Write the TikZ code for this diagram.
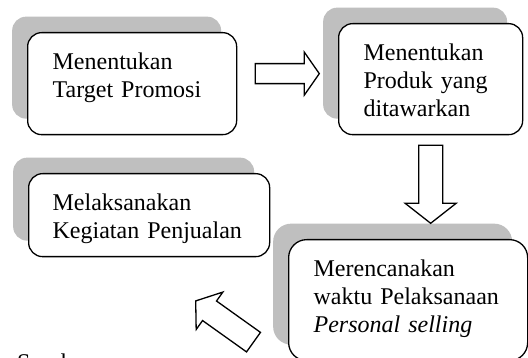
\documentclass[tikz,border=0pt]{standalone}
\usepackage{fontspec}
\setmainfont{Liberation Serif}
\usetikzlibrary{shadows,calc}
\definecolor{shadowgray}{RGB}{191,191,191}

\begin{document}
\begin{tikzpicture}[x=1pt, y=1pt, line join=miter]
\tikzstyle{box}=[draw=black, fill=white, line width=1.3pt, rounded corners=14pt, anchor=north west, align=left, inner xsep=25pt, inner ysep=0pt, text height=37pt, font=\fontsize{24}{28}\selectfont, drop shadow={shadow xshift=-15.5pt, shadow yshift=16pt, fill=shadowgray, opacity=1}]
\tikzstyle{arrowline}=[draw=black, fill=white, line width=1.3pt]
\tikzset{pics/blockarrow/.style n args={4}{code={
  \draw[arrowline] (0,{-#2/2}) -- ({#1-#4},{-#2/2}) -- ({#1-#4},{-#3/2}) -- (#1,0) -- ({#1-#4},{#3/2}) -- ({#1-#4},{#2/2}) -- (0,{#2/2}) -- cycle;}}}
\useasboundingbox (0,0) rectangle (528,358);
% kotak-kotak
\node[box, text width=159pt, text depth=65pt]   (A) at (27,326)  {Menentukan\\Target Promosi};
\node[box, text width=134pt, text depth=74pt]   (B) at (338,335) {Menentukan\\Produk yang\\ditawarkan};
\node[box, rounded corners=18pt, text width=189pt, text depth=84pt] (C) at (288,119) {Merencanakan\\waktu Pelaksanaan\\\textit{Personal selling}};
\node[box, inner xsep=24pt, text width=193pt, text depth=46pt] (D) at (28,185) {Melaksanakan\\Kegiatan Penjualan};
% panah
\pic at ($(A.east)+(18,10)$) {blockarrow={64}{20}{43}{15}};
\pic[rotate=-90] at ($(B.south)+(0,-10)$) {blockarrow={78}{24}{51}{20}};
\pic[rotate=144.5] at ($(C.west)+(-34.5,-42)$) {blockarrow={71}{24}{46}{17}};
\node[font=\fontsize{24}{28}\selectfont, anchor=base west, inner sep=0pt] (S) at (17,-13) {Sumber};
\end{tikzpicture}
\end{document}
